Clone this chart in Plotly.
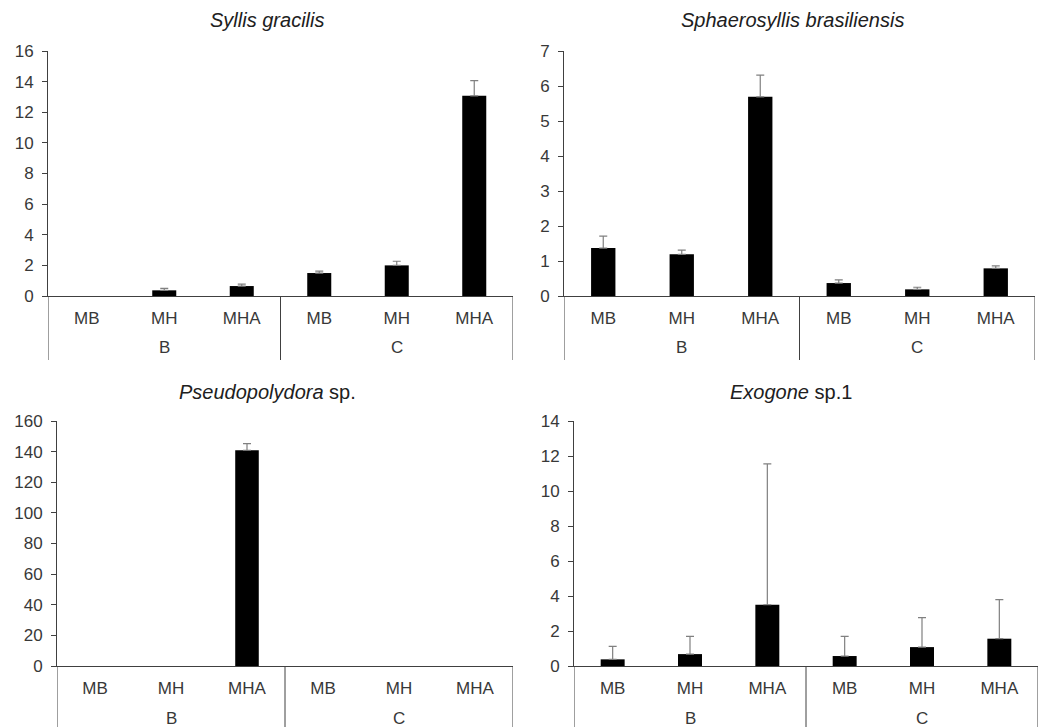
import plotly.graph_objects as go

W, H = 1044, 727

groups = ["B", "C"]
treatments = ["MB", "MH", "MHA", "MB", "MH", "MHA"]
group_of_bar = ["B", "B", "B", "C", "C", "C"]

titles = ["<i>Syllis gracilis</i>", "<i>Sphaerosyllis brasiliensis</i>",
          "<i>Pseudopolydora</i> sp.", "<i>Exogone</i> sp.1"]

syllis_mean = [0, 0.37, 0.65, 1.5, 2.0, 13.07]
syllis_err = [0, 0.13, 0.13, 0.12, 0.27, 1.0]

sphaero_mean = [1.37, 1.19, 5.69, 0.37, 0.19, 0.79]
sphaero_err = [0.34, 0.12, 0.62, 0.09, 0.06, 0.07]

pseudo_mean = [0, 0, 140.9, 0, 0, 0]
pseudo_err = [0, 0, 4.3, 0, 0, 0]

exogone_mean = [0.38, 0.68, 3.5, 0.57, 1.08, 1.56]
exogone_err = [0.74, 1.01, 8.05, 1.12, 1.68, 2.23]

y_ranges = [[0, 16], [0, 7], [0, 160], [0, 14]]
y_dticks = [2, 1, 20, 2]

means = [syllis_mean, sphaero_mean, pseudo_mean, exogone_mean]
errs = [syllis_err, sphaero_err, pseudo_err, exogone_err]

# plot-area positions (pixels)
x_dom_px = [(48, 513), (564, 1035), (57, 513), (574, 1038)]
y_dom_px = [(51, 296), (51, 296), (421, 666), (421, 666)]
title_pos = [(267, 20), (792, 20), (267, 392), (791, 392)]
group_label_offset = 52   # px below axis line
divider_len = [64, 64, 61, 61]

TEXT = "#383838"
AXIS = "#404040"
FONT = "Liberation Sans, Arial, sans-serif"

positions = list(range(len(treatments)))

fig = go.Figure()
layout = dict(
    width=W, height=H, margin=dict(l=0, r=0, t=0, b=0),
    paper_bgcolor="white", plot_bgcolor="white", showlegend=False,
    font=dict(family=FONT, size=16, color=TEXT),
    bargap=0.69, annotations=[], shapes=[],
)

for i in range(4):
    n = "" if i == 0 else str(i + 1)
    xa, ya = "x" + n, "y" + n
    # empty samples (zero mean, zero error) are not drawn at all
    keep = [k for k in positions if means[i][k] > 0 or errs[i][k] > 0]
    fig.add_trace(go.Bar(
        x=[positions[k] for k in keep], y=[means[i][k] for k in keep],
        marker=dict(color="black", line=dict(width=0)),
        error_y=dict(type="data", array=[errs[i][k] for k in keep],
                     arrayminus=[0] * len(keep),
                     symmetric=False, color="#808080", thickness=1.2, width=4),
        xaxis=xa, yaxis=ya,
    ))
    x0, x1 = x_dom_px[i]
    y0, y1 = y_dom_px[i]
    layout["xaxis" + n] = dict(
        domain=[x0 / W, x1 / W], anchor=ya, range=[-0.5, len(treatments) - 0.5],
        tickmode="array", tickvals=positions, ticktext=treatments,
        showline=True, linecolor=AXIS, linewidth=1, showgrid=False, zeroline=False,
        ticks="", ticklabelstandoff=7,
        tickfont=dict(size=17, color=TEXT), automargin=False,
    )
    layout["yaxis" + n] = dict(
        domain=[1 - y1 / H, 1 - y0 / H], anchor=xa,
        range=y_ranges[i], dtick=y_dticks[i], tick0=0,
        showline=True, linecolor=AXIS, linewidth=1, showgrid=False,
        zeroline=False, ticks="outside", ticklen=5, tickcolor=AXIS,
        ticklabelstandoff=5,
        tickfont=dict(size=17, color=TEXT), automargin=False,
    )
    # group labels
    axis_y_paper = 1 - y1 / H
    for g in groups:
        idx = [k for k, gg in enumerate(group_of_bar) if gg == g]
        layout["annotations"].append(dict(
            text=g, x=sum(idx) / len(idx), xref=xa,
            y=1 - (y1 + group_label_offset) / H, yref="paper",
            showarrow=False, xanchor="center", yanchor="middle",
            font=dict(size=17, color=TEXT, family=FONT),
        ))
    # dividers at group boundaries
    bounds = [-0.5]
    for g in groups:
        idx = [k for k, gg in enumerate(group_of_bar) if gg == g]
        bounds.append(max(idx) + 0.5)
    for b in bounds:
        layout["shapes"].append(dict(
            type="line", xref=xa, yref="paper", x0=b, x1=b,
            y0=axis_y_paper, y1=1 - (y1 + divider_len[i]) / H,
            line=dict(color=AXIS, width=1),
        ))
    tx, ty = title_pos[i]
    layout["annotations"].append(dict(
        text=titles[i], x=tx / W, y=1 - ty / H, xref="paper", yref="paper",
        showarrow=False, xanchor="center", yanchor="middle",
        font=dict(size=20, color="#202020", family=FONT),
    ))

fig.update_layout(**layout)
fig.write_html("out.html")
